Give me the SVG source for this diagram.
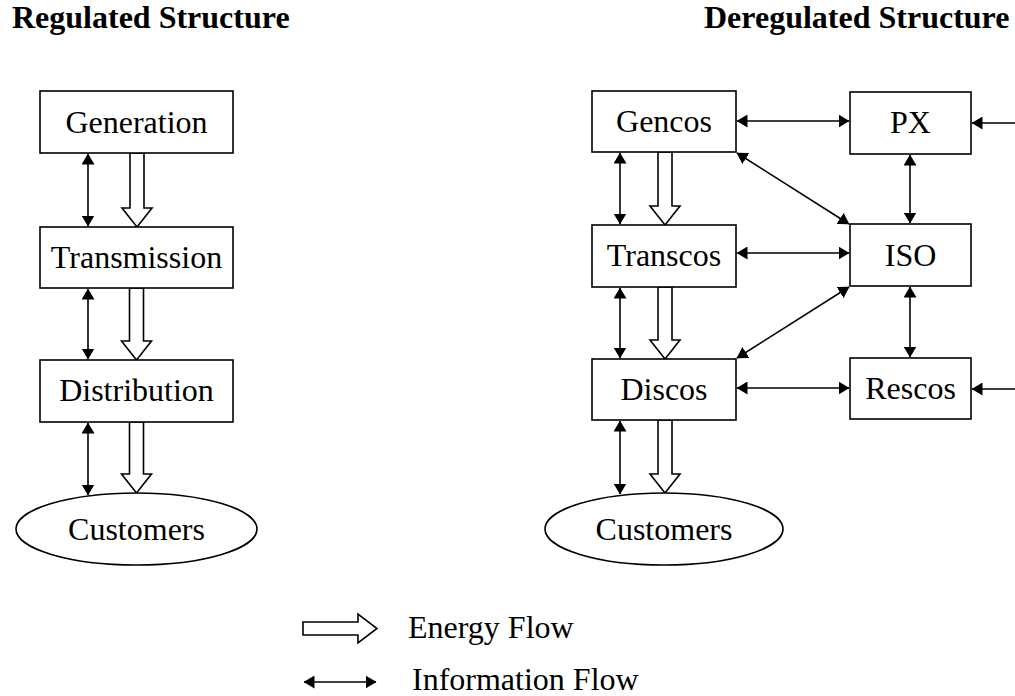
<svg xmlns="http://www.w3.org/2000/svg" width="1015" height="696" viewBox="0 0 1015 696">
<style>
.box{fill:#fff;stroke:#000;stroke-width:1.6}
.lbl{font-family:"Liberation Serif","Times New Roman",serif;font-size:32px;fill:#000;text-anchor:middle}
.ttl{font-family:"Liberation Serif","Times New Roman",serif;font-size:32px;font-weight:bold;fill:#000}
.leg{font-family:"Liberation Serif","Times New Roman",serif;font-size:32px;fill:#000}
.info{stroke:#000;stroke-width:1.6;fill:none}
.dbl{marker-start:url(#ah);marker-end:url(#ah)}
.one{marker-end:url(#ah)}
.energy{fill:#fff;stroke:#000;stroke-width:1.6;stroke-linejoin:miter}
</style>
<defs>
<marker id="ah" markerUnits="userSpaceOnUse" markerWidth="11" markerHeight="13" refX="10.5" refY="6.5" orient="auto-start-reverse" viewBox="0 0 11 13">
<path d="M0,0 L11,6.5 L0,13 z" fill="#000"/>
</marker>
</defs>
<rect width="1015" height="696" fill="#fff"/>
<text class="ttl" x="12" y="28">Regulated Structure</text>
<text class="ttl" x="704" y="28">Deregulated Structure</text>

<g id="connectors">
<!-- left info arrows -->
<line class="info dbl" x1="88" y1="154" x2="88" y2="226"/>
<line class="info dbl" x1="88" y1="289" x2="88" y2="359"/>
<line class="info dbl" x1="88" y1="423" x2="88" y2="495"/>
<!-- left energy arrows -->
<polygon class="energy" points="130,153 144,153 144,208 152,208 137,227 122,208 130,208"/>
<polygon class="energy" points="129.5,288 143.5,288 143.5,341 151.5,341 136.5,360 121.5,341 129.5,341"/>
<polygon class="energy" points="129.5,422 143.5,422 143.5,474 151.5,474 136.5,493 121.5,474 129.5,474"/>
<!-- right info vertical -->
<line class="info dbl" x1="620" y1="153" x2="620" y2="224"/>
<line class="info dbl" x1="620" y1="288" x2="620" y2="358"/>
<line class="info dbl" x1="620" y1="421" x2="620" y2="494"/>
<!-- right energy -->
<polygon class="energy" points="658,152 672,152 672,206 680,206 665,225 650,206 658,206"/>
<polygon class="energy" points="658,287 672,287 672,340 680,340 665,359 650,340 658,340"/>
<polygon class="energy" points="658,420 672,420 672,474 680,474 665,493 650,474 658,474"/>
<!-- horizontals -->
<line class="info dbl" x1="737" y1="121" x2="849" y2="121"/>
<line class="info dbl" x1="737" y1="253" x2="849" y2="253"/>
<line class="info dbl" x1="737" y1="388" x2="849" y2="388"/>
<line class="info one" x1="1015" y1="123" x2="972" y2="123"/>
<line class="info one" x1="1015" y1="389" x2="972" y2="389"/>
<!-- verticals PX-ISO-Rescos -->
<line class="info dbl" x1="910" y1="155" x2="910" y2="223"/>
<line class="info dbl" x1="910" y1="287" x2="910" y2="357"/>
<!-- diagonals -->
<line class="info dbl" x1="737" y1="153" x2="849" y2="224"/>
<line class="info dbl" x1="849" y1="287" x2="737" y2="358"/>
</g>

<g id="generation"><rect class="box" x="40" y="91" width="193" height="62"/><text class="lbl" x="136.5" y="133">Generation</text></g>
<g id="transmission"><rect class="box" x="40" y="227" width="193" height="61"/><text class="lbl" x="136.5" y="268">Transmission</text></g>
<g id="distribution"><rect class="box" x="40" y="360" width="193" height="62"/><text class="lbl" x="136.5" y="401">Distribution</text></g>
<g id="customers-left"><ellipse class="box" cx="136.5" cy="529" rx="120.5" ry="36"/><text class="lbl" x="136.5" y="540">Customers</text></g>

<g id="gencos"><rect class="box" x="592" y="91" width="144" height="61"/><text class="lbl" x="664" y="132">Gencos</text></g>
<g id="transcos"><rect class="box" x="592" y="225" width="144" height="62"/><text class="lbl" x="664" y="266">Transcos</text></g>
<g id="discos"><rect class="box" x="592" y="359" width="144" height="61"/><text class="lbl" x="664" y="400">Discos</text></g>
<g id="customers-right"><ellipse class="box" cx="664" cy="529" rx="119" ry="36"/><text class="lbl" x="664" y="540">Customers</text></g>
<g id="px"><rect class="box" x="850" y="92" width="121" height="62"/><text class="lbl" x="910.5" y="133">PX</text></g>
<g id="iso"><rect class="box" x="850" y="224" width="121" height="62"/><text class="lbl" x="910.5" y="266">ISO</text></g>
<g id="rescos"><rect class="box" x="850" y="358" width="121" height="61"/><text class="lbl" x="910.5" y="399">Rescos</text></g>

<g id="legend">
<polygon class="energy" points="303,622 358,622 358,614 377,628.5 358,643 358,635 303,635"/>
<text class="leg" x="408" y="638">Energy Flow</text>
<line class="info dbl" x1="304" y1="682" x2="376" y2="682"/>
<text class="leg" x="412" y="690">Information Flow</text>
</g>
</svg>
